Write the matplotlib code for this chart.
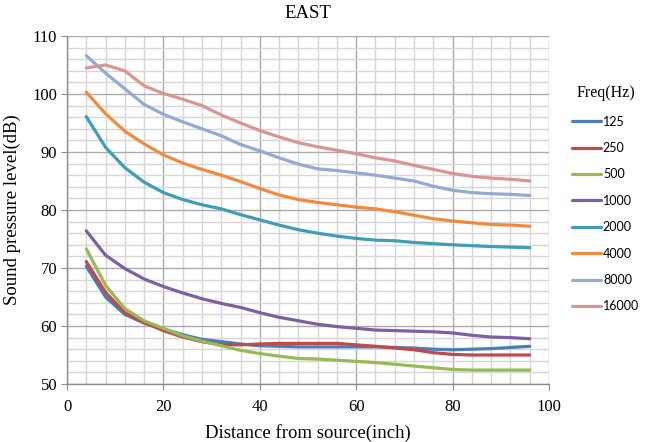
import matplotlib
matplotlib.use("Agg")
import matplotlib.pyplot as plt
from matplotlib.ticker import MultipleLocator

# distance from source (inch)
distance = [4, 8, 12, 16, 20, 24, 28, 32, 36, 40, 44, 48,
            52, 56, 60, 64, 68, 72, 76, 80, 84, 88, 92, 96]

# sound pressure level (dB) per frequency band
spl_125 = [70.3, 65.0, 62.0, 60.5, 59.5, 58.5, 57.7, 57.3, 56.9, 56.6, 56.5, 56.4,
           56.4, 56.4, 56.4, 56.4, 56.3, 56.2, 56.0, 55.9, 56.0, 56.1, 56.3, 56.5]
spl_250 = [71.1, 65.8, 62.3, 60.6, 59.2, 58.1, 57.3, 56.8, 56.75, 56.9, 57.0, 57.0,
           57.0, 57.0, 56.75, 56.5, 56.2, 55.9, 55.4, 55.1, 55.0, 55.0, 55.0, 55.0]
spl_500 = [73.3, 67.0, 63.0, 60.9, 59.6, 58.3, 57.4, 56.6, 55.8, 55.25, 54.8, 54.4,
           54.3, 54.1, 53.9, 53.7, 53.4, 53.1, 52.8, 52.5, 52.4, 52.4, 52.4, 52.4]
spl_1000 = [76.4, 72.2, 69.9, 68.1, 66.8, 65.7, 64.7, 63.9, 63.2, 62.3, 61.5, 60.9,
            60.3, 59.9, 59.6, 59.3, 59.2, 59.1, 59.0, 58.8, 58.4, 58.1, 58.0, 57.8]
spl_2000 = [96.1, 90.8, 87.3, 84.8, 83.0, 81.8, 80.9, 80.2, 79.2, 78.3, 77.4, 76.6,
            76.0, 75.5, 75.1, 74.8, 74.7, 74.4, 74.2, 74.0, 73.85, 73.7, 73.6, 73.5]
spl_4000 = [100.3, 96.6, 93.6, 91.4, 89.5, 88.1, 87.0, 86.0, 84.9, 83.7, 82.6, 81.8,
            81.3, 80.9, 80.5, 80.2, 79.7, 79.1, 78.5, 78.1, 77.8, 77.5, 77.4, 77.2]
spl_8000 = [106.6, 103.6, 100.9, 98.2, 96.5, 95.2, 94.0, 92.8, 91.3, 90.2, 89.0, 87.9,
            87.1, 86.8, 86.4, 86.0, 85.5, 85.0, 84.1, 83.4, 83.0, 82.8, 82.7, 82.5]
spl_16000 = [104.5, 105.0, 104.0, 101.4, 100.1, 99.1, 98.0, 96.4, 95.0, 93.7, 92.6, 91.6,
             90.9, 90.3, 89.7, 89.0, 88.45, 87.7, 87.0, 86.3, 85.8, 85.5, 85.3, 85.0]

labels = ["125", "250", "500", "1000", "2000", "4000", "8000", "16000"]
series = [spl_125, spl_250, spl_500, spl_1000, spl_2000, spl_4000, spl_8000, spl_16000]
colors = ["#4A7EBB", "#BE4B48", "#98B954", "#7D60A0", "#3E9EB5", "#F08A3C", "#93AAD4", "#D99593"]

serif = "Liberation Serif"

fig = plt.figure(figsize=(6.47, 4.42), dpi=100)
ax = fig.add_axes([67 / 647, 1 - 384 / 442, (549 - 67) / 647, (384 - 36) / 442])

for vals, lab, col in zip(series, labels, colors):
    ax.plot(distance, vals, color=col, linewidth=2.3, label=lab,
            solid_capstyle="round", solid_joinstyle="round", zorder=3)

ax.set_xlim(0, 100)
ax.set_ylim(50, 110)
ax.xaxis.set_major_locator(MultipleLocator(20))
ax.xaxis.set_minor_locator(MultipleLocator(4))
ax.yaxis.set_major_locator(MultipleLocator(10))
ax.yaxis.set_minor_locator(MultipleLocator(2))

ax.grid(which="major", color="#ababab", linewidth=1.0, zorder=1)
ax.grid(which="minor", color="#d6d6d6", linewidth=1.0, zorder=1)
ax.set_axisbelow(True)

for side in ["top", "right"]:
    ax.spines[side].set_visible(False)
for side in ["left", "bottom"]:
    ax.spines[side].set_color("#8c8c8c")
    ax.spines[side].set_linewidth(1.0)

ax.tick_params(which="major", direction="out", length=4, color="#8c8c8c",
               labelsize=12)
ax.tick_params(axis="x", which="major", pad=7)
ax.tick_params(axis="y", which="major", pad=3)
ax.tick_params(which="minor", length=0)
for t in ax.get_xticklabels() + ax.get_yticklabels():
    t.set_fontfamily(serif)

ax.set_xlabel("Distance from source(inch)", fontsize=13.5, family=serif, labelpad=6)
ax.set_ylabel("Sound pressure level(dB)", fontsize=13.5, family=serif, labelpad=8)
ax.set_title("EAST", fontsize=13.5, family=serif, pad=13)

leg = fig.legend(loc="upper left", bbox_to_anchor=(561 / 647, 1 - 74 / 442),
                 frameon=False, handlelength=2.3,
                 handletextpad=0.15, labelspacing=1.15,
                 prop={"family": "Lato", "size": 9.0},
                 title="Freq(Hz)",
                 title_fontproperties={"family": serif, "size": 11.5})
for line in leg.get_lines():
    line.set_linewidth(2.3)

fig.savefig("out.png", dpi=100)
